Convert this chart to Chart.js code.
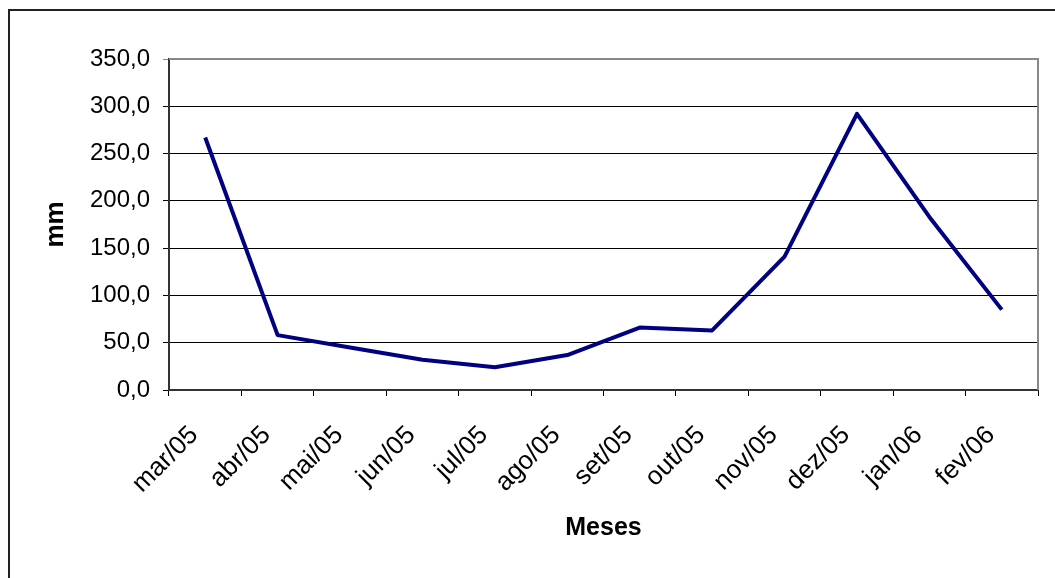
<!DOCTYPE html>
<html>
<head>
<meta charset="utf-8">
<style>
  html, body { margin: 0; padding: 0; background: #ffffff; }
  #wrap { position: relative; width: 1055px; height: 578px; }
</style>
<script src="https://cdn.jsdelivr.net/npm/chart.js@4/dist/chart.umd.min.js"></script>
</head>
<body>
<div id="wrap"><canvas id="chart" width="1055" height="578"></canvas></div>
<script>
// Monthly rainfall (mm), March 2005 to February 2006
const months = ['mar/05', 'abr/05', 'mai/05', 'jun/05', 'jul/05', 'ago/05',
                'set/05', 'out/05', 'nov/05', 'dez/05', 'jan/06', 'fev/06'];
const rainfall = [267, 58, 45, 32, 24, 37, 66, 63, 141, 292, 183, 85];
const yTicks = [0, 50, 100, 150, 200, 250, 300, 350];

const FONT = 'Liberation Sans, Arial, Helvetica, sans-serif';

// Frame around the whole figure plus the grey plot-area outline
const framePlugin = {
  id: 'frame',
  beforeDraw(chart) {
    const ctx = chart.ctx;
    ctx.save();
    ctx.fillStyle = '#ffffff';
    ctx.fillRect(0, 0, chart.width, chart.height);
    ctx.strokeStyle = '#222222';
    ctx.lineWidth = 2;
    ctx.beginPath();
    ctx.moveTo(9, chart.height);
    ctx.lineTo(9, 10);
    ctx.lineTo(chart.width, 10);
    ctx.stroke();
    ctx.restore();
  },
  afterDraw(chart) {
    const a = chart.chartArea;
    const ctx = chart.ctx;
    ctx.save();
    ctx.strokeStyle = '#888888';
    ctx.lineWidth = 2;
    ctx.beginPath();
    ctx.moveTo(a.left, a.top);
    ctx.lineTo(a.right, a.top);
    ctx.lineTo(a.right, a.bottom);
    ctx.stroke();
    ctx.restore();
  }
};

new Chart(document.getElementById('chart'), {
  type: 'line',
  data: {
    labels: months,
    datasets: [{
      data: rainfall,
      borderColor: '#000080',
      borderWidth: 4,
      pointRadius: 0,
      pointHoverRadius: 0,
      tension: 0,
      fill: false,
      borderJoinStyle: 'round'
    }]
  },
  options: {
    responsive: false,
    animation: false,
    layout: { padding: { top: 59, right: 17, left: 0, bottom: 0 } },
    plugins: { legend: { display: false }, tooltip: { enabled: false } },
    scales: {
      x: {
        type: 'category',
        offset: true,
        afterFit(scale) { scale.height = 188; },
        grid: {
          offset: true,
          drawOnChartArea: false,
          drawTicks: true,
          tickLength: 6,
          color: '#000000',
          lineWidth: 1
        },
        border: { color: '#333333', width: 2 },
        ticks: {
          autoSkip: false,
          maxRotation: 45,
          minRotation: 45,
          padding: 24,
          labelOffset: -11,
          color: '#000000',
          font: { family: FONT, size: 26 }
        },
        title: {
          display: true,
          text: 'Meses',
          color: '#000000',
          font: { family: FONT, size: 25, weight: 'bold' },
          padding: { top: 0, bottom: 35 }
        }
      },
      y: {
        min: 0,
        max: 350,
        afterFit(scale) { scale.width = 169; },
        afterBuildTicks(scale) { scale.ticks = yTicks.map(v => ({ value: v })); },
        grid: {
          drawTicks: true,
          tickLength: 6,
          color: (c) => (c.tick && c.tick.value === 350) ? '#888888' : '#000000',
          lineWidth: 1
        },
        border: { color: '#333333', width: 2 },
        ticks: {
          padding: 13,
          color: '#000000',
          font: { family: FONT, size: 24 },
          callback: (v) => Number(v).toFixed(1).replace('.', ',')
        },
        title: {
          display: true,
          text: 'mm',
          color: '#000000',
          font: { family: FONT, size: 26, weight: 'bold' },
          padding: { top: 40, bottom: 0 }
        }
      }
    }
  },
  plugins: [framePlugin]
});
</script>
</body>
</html>
